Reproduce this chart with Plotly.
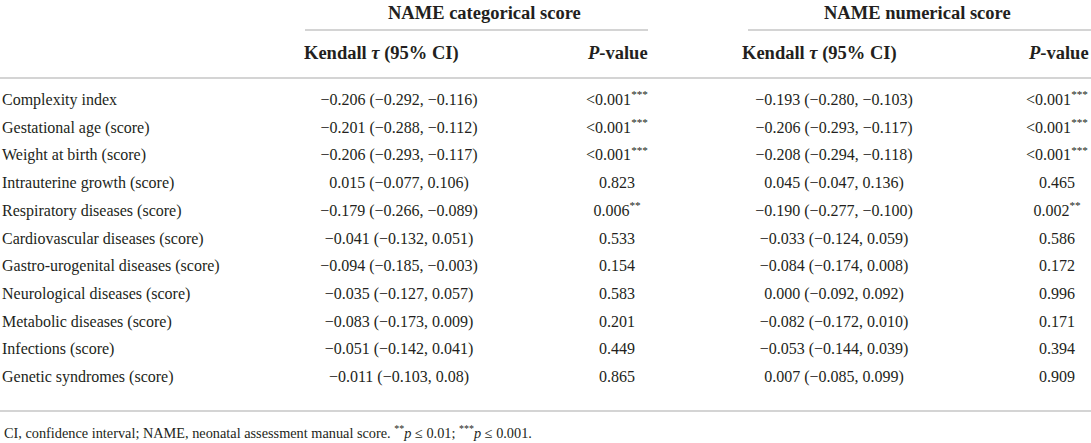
import plotly.graph_objects as go

# table content
row_labels = [
    "Complexity index", "Gestational age (score)", "Weight at birth (score)",
    "Intrauterine growth (score)", "Respiratory diseases (score)",
    "Cardiovascular diseases (score)", "Gastro-urogenital diseases (score)",
    "Neurological diseases (score)", "Metabolic diseases (score)",
    "Infections (score)", "Genetic syndromes (score)",
]

cat_tau = ["-0.206", "-0.201", "-0.206", "0.015", "-0.179", "-0.041", "-0.094", "-0.035", "-0.083", "-0.051", "-0.011"]
cat_lo = ["-0.292", "-0.288", "-0.293", "-0.077", "-0.266", "-0.132", "-0.185", "-0.127", "-0.173", "-0.142", "-0.103"]
cat_hi = ["-0.116", "-0.112", "-0.117", "0.106", "-0.089", "0.051", "-0.003", "0.057", "0.009", "0.041", "0.08"]
cat_p = ["<0.001", "<0.001", "<0.001", "0.823", "0.006", "0.533", "0.154", "0.583", "0.201", "0.449", "0.865"]
cat_stars = ["***", "***", "***", "", "**", "", "", "", "", "", ""]

num_tau = ["-0.193", "-0.206", "-0.208", "0.045", "-0.190", "-0.033", "-0.084", "0.000", "-0.082", "-0.053", "0.007"]
num_lo = ["-0.280", "-0.293", "-0.294", "-0.047", "-0.277", "-0.124", "-0.174", "-0.092", "-0.172", "-0.144", "-0.085"]
num_hi = ["-0.103", "-0.117", "-0.118", "0.136", "-0.100", "0.059", "0.008", "0.092", "0.010", "0.039", "0.099"]
num_p = ["<0.001", "<0.001", "<0.001", "0.465", "0.002", "0.586", "0.172", "0.996", "0.171", "0.394", "0.909"]
num_stars = ["***", "***", "***", "", "**", "", "", "", "", "", ""]

group_titles = ["NAME categorical score", "NAME numerical score"]
footnote = ("CI, confidence interval; NAME, neonatal assessment manual score. "
            "<sup>**</sup><i>p</i> \u2264 0.01; <sup>***</sup><i>p</i> \u2264 0.001.")

W, H = 1091, 443
FONT = "Liberation Serif"
INK = "#231f20"
RULE = "#d4d4d4"


def ci_text(t, lo, hi):
    return f"{t} ({lo}, {hi})".replace("-", "\u2212")


def p_text(p, s):
    out = p.replace("<", "&lt;")
    return out + (f"<sup>{s}</sup>" if s else "")


row_y = [101 + i * 27.7 for i in range(len(row_labels))]

fig = go.Figure()


def add_col(x, texts, pos):
    fig.add_trace(go.Scatter(
        x=[x] * len(texts), y=row_y, text=texts, mode="text",
        textposition=pos, hoverinfo="skip", showlegend=False,
        textfont=dict(family=FONT, size=16, color=INK),
    ))


add_col(2, row_labels, "middle right")
add_col(399, [ci_text(*v) for v in zip(cat_tau, cat_lo, cat_hi)], "middle center")
add_col(617, [p_text(*v) for v in zip(cat_p, cat_stars)], "middle center")
add_col(834, [ci_text(*v) for v in zip(num_tau, num_lo, num_hi)], "middle center")
add_col(1057, [p_text(*v) for v in zip(num_p, num_stars)], "middle center")

# header text
hdr = dict(family=FONT, size=18.5, color=INK)
for x, t in zip([484, 917], group_titles):
    fig.add_annotation(x=x, y=13, text=f"<b>{t}</b>", showarrow=False, font=hdr,
                       xanchor="center", yanchor="middle")
for x in [381, 819]:
    fig.add_annotation(x=x, y=53, text="<b>Kendall <i>\u03c4</i> (95% CI)</b>", showarrow=False,
                       font=hdr, xanchor="center", yanchor="middle")
for x in [617, 1058]:
    fig.add_annotation(x=x, y=53, text="<b><i>P</i>-value</b>", showarrow=False,
                       font=hdr, xanchor="center", yanchor="middle")
fig.add_annotation(x=2, y=432, text=footnote, showarrow=False, xanchor="left", yanchor="middle",
                   font=dict(family=FONT, size=14.3, color=INK))

# rules
for x0, x1 in [(305, 648), (748, W)]:
    fig.add_shape(type="line", x0=x0, x1=x1, y0=30, y1=30, line=dict(color=RULE, width=2))
for y in [78, 411]:
    fig.add_shape(type="line", x0=0, x1=W, y0=y, y1=y, line=dict(color=RULE, width=2))

fig.update_xaxes(range=[0, W], visible=False, fixedrange=True)
fig.update_yaxes(range=[H, 0], visible=False, fixedrange=True)
fig.update_layout(
    width=W, height=H, margin=dict(l=0, r=0, t=0, b=0),
    paper_bgcolor="white", plot_bgcolor="white",
)

# drop the browser's default body margin so the table sits at the page corner
fig.write_html("out.html", config={"displayModeBar": False},
               post_script="document.body.style.margin='0';")
